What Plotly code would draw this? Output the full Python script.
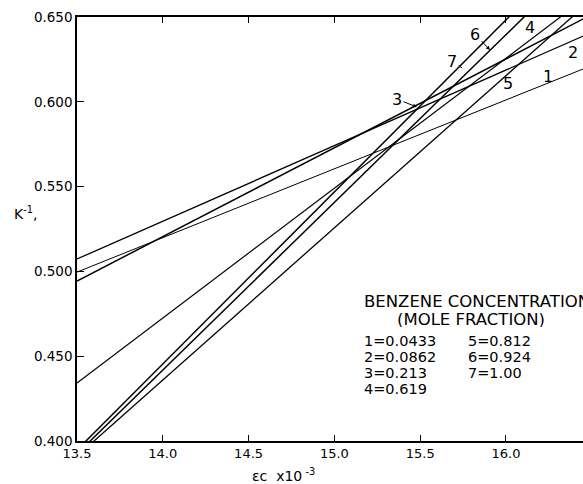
import plotly.graph_objects as go

# ---- data ----
x_ends = [13.5, 16.5]
line_labels = ["1", "2", "3", "4", "5", "6", "7"]
y_line1 = [0.4996, 0.6214]
y_line2 = [0.5073, 0.6410]
y_line3 = [0.4943, 0.6515]
y_line4 = [0.4342, 0.6640]
y_line5 = [0.3911, 0.6603]
y_line6 = [0.3924, 0.6890]
y_line7 = [0.3947, 0.6990]
legend_items = ["1=0.0433", "2=0.0862", "3=0.213", "4=0.619",
                "5=0.812", "6=0.924", "7=1.00"]
x_ticks = [13.5, 14.0, 14.5, 15.0, 15.5, 16.0]
y_ticks = [0.400, 0.450, 0.500, 0.550, 0.600, 0.650]

series = [y_line1, y_line2, y_line3, y_line4, y_line5, y_line6, y_line7]
widths = [1.0, 1.3, 1.5, 1.2, 1.3, 1.5, 1.5]

FONT = "DejaVu Sans"
fig = go.Figure()
for name, ys, w in zip(line_labels, series, widths):
    fig.add_trace(go.Scatter(x=x_ends, y=ys, mode="lines", name=name,
                             line=dict(color="black", width=w),
                             showlegend=False, hoverinfo="skip"))

ann = []
# curve labels
ann.append(dict(x=16.245, y=0.6150, text="1", showarrow=False))
ann.append(dict(x=16.39, y=0.6288, text="2", showarrow=False))
ann.append(dict(x=15.481, y=0.5969, text="3", showarrow=True, ax=-20, ay=-8,
                arrowhead=2, arrowsize=0.8, arrowwidth=1, arrowcolor="black"))
ann.append(dict(x=16.14, y=0.6440, text="4", showarrow=False))
ann.append(dict(x=16.012, y=0.6105, text="5", showarrow=False))
ann.append(dict(x=15.907, y=0.6305, text="6", showarrow=True, ax=-15, ay=-16,
                arrowhead=2, arrowsize=0.8, arrowwidth=1, arrowcolor="black"))
ann.append(dict(x=15.745, y=0.6199, text="7", showarrow=True, ax=-10, ay=-7,
                arrowhead=0, arrowwidth=1, arrowcolor="black"))
for a in ann:
    a.update(xref="x", yref="y", font=dict(family=FONT, size=16, color="black"))

# legend block (paper px -> relative)
W, H = 583, 484
ML, MR, MT, MB = 77, 0, 17, 43
PW, PH = W - ML - MR, H - MT - MB

def px(xp):
    return (xp - ML) / PW

def py(yp):
    return (H - MB - yp) / PH

text_ann = []
text_ann.append(dict(x=px(362), y=py(301), text="BENZENE CONCENTRATION",
                     xanchor="left", size=16.5, h=16))
text_ann.append(dict(x=px(471), y=py(319), text="(MOLE FRACTION)",
                     xanchor="center", size=16.5, h=16))
col_x = [362, 362, 362, 362, 466, 466, 466]
row_y = [340, 356, 372, 388, 340, 356, 372]
for t, cx, ry in zip(legend_items, col_x, row_y):
    text_ann.append(dict(x=px(cx), y=py(ry), text=t, xanchor="left", size=14.5, h=15))
# axis titles
text_ann.append(dict(x=px(12), y=py(213), text="K<sup>-1</sup>,", xanchor="left",
                     size=14, h=None))
text_ann.append(dict(x=px(250), y=py(475), text="εc  x10<sup> -3</sup>", xanchor="left",
                     size=14, h=None))
for a in text_ann:
    s = a.pop("size")
    h = a.pop("h")
    a.update(xref="paper", yref="paper", showarrow=False, yanchor="middle",
             font=dict(family=FONT, size=s, color="black"))
    if h is not None:
        a["height"] = h

fig.update_layout(
    width=W, height=H,
    margin=dict(l=ML, r=MR, t=MT, b=MB, pad=0),
    paper_bgcolor="white", plot_bgcolor="white",
    annotations=ann + text_ann,
    xaxis=dict(range=[13.5, 16.449], tickvals=x_ticks, tickformat=".1f",
               ticks="inside", ticklen=6, tickwidth=1.2, tickcolor="black",
               showline=True, linecolor="black", linewidth=1.5, mirror="ticks",
               showgrid=False, zeroline=False,
               tickfont=dict(family=FONT, size=13, color="black")),
    yaxis=dict(range=[0.400, 0.650], tickvals=y_ticks, tickformat=".3f",
               ticks="inside", ticklen=7, tickwidth=1.2, tickcolor="black",
               showline=True, linecolor="black", linewidth=1.5,
               showgrid=False, zeroline=False, ticklabelstandoff=0,
               tickfont=dict(family=FONT, size=13.5, color="black")),
)

fig.write_html("out.html",
               config={"displayModeBar": False},
               post_script="document.body.style.margin='0px';"
                           "document.body.style.padding='0px';"
                           "document.documentElement.style.overflow='hidden';")
